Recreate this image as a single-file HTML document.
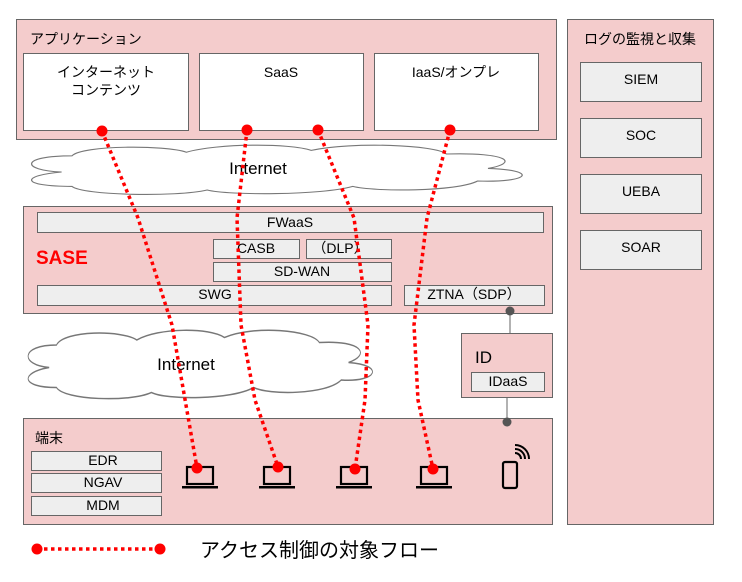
<!DOCTYPE html>
<html><head><meta charset="utf-8"><style>
body{margin:0;background:#fff}
text{font-family:"Liberation Sans","Noto Sans CJK JP",sans-serif;fill:#000}
</style></head><body>
<svg width="742" height="577" viewBox="0 0 742 577" xmlns="http://www.w3.org/2000/svg">
<defs>
<g id="cloud">
<path d="M40,30 C0,28 0,12 50,12 C60,0 140,0 160,8 C190,-2 260,-2 280,6 C320,-4 400,0 410,10 C470,8 480,20 450,26 C500,28 490,42 440,40 C420,52 340,52 320,46 C290,56 200,56 180,50 C150,58 60,56 50,46 C0,46 0,34 40,30 Z" fill="#fff" stroke="#777" stroke-width="1.2"/>
</g>
<g id="laptop">
<rect x="-13" y="0" width="26" height="17" fill="none" stroke="#000" stroke-width="2.2"/>
<rect x="-18" y="19" width="36" height="2.5" fill="#000"/>
</g>
</defs>
<rect x="16.5" y="19.5" width="540" height="120" fill="#f4cccc" stroke="#666"/>
<text x="30" y="44" font-size="14">アプリケーション</text>
<rect x="23.5" y="53.5" width="165" height="77" fill="#fff" stroke="#666"/>
<text x="106" y="77" font-size="14" text-anchor="middle">インターネット</text>
<text x="106" y="95" font-size="14" text-anchor="middle">コンテンツ</text>
<rect x="199.5" y="53.5" width="164" height="77" fill="#fff" stroke="#666"/>
<text x="281" y="77" font-size="14" text-anchor="middle">SaaS</text>
<rect x="374.5" y="53.5" width="164" height="77" fill="#fff" stroke="#666"/>
<text x="456" y="77" font-size="14" text-anchor="middle">IaaS/オンプレ</text>
<rect x="567.5" y="19.5" width="146" height="505" fill="#f4cccc" stroke="#666"/>
<text x="640" y="44" font-size="14" text-anchor="middle">ログの監視と収集</text>
<rect x="580.5" y="62.5" width="121" height="39" fill="#eee" stroke="#666"/>
<text x="641" y="84" font-size="14" text-anchor="middle">SIEM</text>
<rect x="580.5" y="118.5" width="121" height="39" fill="#eee" stroke="#666"/>
<text x="641" y="140" font-size="14" text-anchor="middle">SOC</text>
<rect x="580.5" y="174.5" width="121" height="39" fill="#eee" stroke="#666"/>
<text x="641" y="196" font-size="14" text-anchor="middle">UEBA</text>
<rect x="580.5" y="230.5" width="121" height="39" fill="#eee" stroke="#666"/>
<text x="641" y="252" font-size="14" text-anchor="middle">SOAR</text>
<g transform="translate(20,145) scale(1.04,0.9)"><use href="#cloud"/></g>
<text x="258" y="174" font-size="17" text-anchor="middle">Internet</text>
<rect x="23.5" y="206.5" width="529" height="107" fill="#f4cccc" stroke="#666"/>
<text x="36" y="264" font-size="19" font-weight="bold" style="fill:#f00">SASE</text>
<rect x="37.5" y="212.5" width="506" height="20" fill="#eee" stroke="#666"/>
<text x="290" y="227" font-size="14" text-anchor="middle">FWaaS</text>
<rect x="213.5" y="239.5" width="86" height="19" fill="#eee" stroke="#666"/>
<text x="256" y="253" font-size="14" text-anchor="middle">CASB</text>
<rect x="306.5" y="239.5" width="85" height="19" fill="#eee" stroke="#666"/>
<text x="340" y="253" font-size="14" text-anchor="middle">（DLP）</text>
<rect x="213.5" y="262.5" width="178" height="19" fill="#eee" stroke="#666"/>
<text x="302" y="276" font-size="14" text-anchor="middle">SD-WAN</text>
<rect x="37.5" y="285.5" width="354" height="20" fill="#eee" stroke="#666"/>
<text x="215" y="299" font-size="14" text-anchor="middle">SWG</text>
<rect x="404.5" y="285.5" width="140" height="20" fill="#eee" stroke="#666"/>
<text x="474" y="299" font-size="14" text-anchor="middle">ZTNA（SDP）</text>
<line x1="510" y1="310" x2="510" y2="334" stroke="#666"/>
<circle cx="510" cy="311" r="4.5" fill="#555"/>
<line x1="507" y1="397" x2="507" y2="422" stroke="#666"/>
<g transform="translate(20,330) scale(0.73,1.25)"><use href="#cloud"/></g>
<text x="186" y="370" font-size="17" text-anchor="middle">Internet</text>
<rect x="461.5" y="333.5" width="91" height="64" fill="#f4cccc" stroke="#666"/>
<text x="475" y="363" font-size="17">ID</text>
<rect x="471.5" y="372.5" width="73" height="19" fill="#eee" stroke="#666"/>
<text x="508" y="386" font-size="14" text-anchor="middle">IDaaS</text>
<rect x="23.5" y="418.5" width="529" height="106" fill="#f4cccc" stroke="#666"/>
<circle cx="507" cy="422" r="4.5" fill="#555"/>
<text x="35" y="443" font-size="14">端末</text>
<rect x="31.5" y="451.5" width="130" height="19" fill="#eee" stroke="#666"/>
<text x="103" y="465" font-size="14" text-anchor="middle">EDR</text>
<rect x="31.5" y="473.5" width="130" height="19" fill="#eee" stroke="#666"/>
<text x="103" y="487" font-size="14" text-anchor="middle">NGAV</text>
<rect x="31.5" y="496.5" width="130" height="19" fill="#eee" stroke="#666"/>
<text x="103" y="510" font-size="14" text-anchor="middle">MDM</text>
<use href="#laptop" x="200" y="467"/>
<use href="#laptop" x="277" y="467"/>
<use href="#laptop" x="354" y="467"/>
<use href="#laptop" x="434" y="467"/>
<rect x="503" y="462" width="14" height="26" rx="2" fill="none" stroke="#000" stroke-width="2.2"/>
<path d="M515,453 a6,6 0 0 1 6,6 M515,449 a10,10 0 0 1 10,10 M515,445 a14,14 0 0 1 14,14" fill="none" stroke="#000" stroke-width="2"/>
<g fill="none" stroke="#f00" stroke-width="3.5" stroke-dasharray="3.5 3.5" stroke-linejoin="round">
<polyline points="102,131 138,218 172,325 197,468"/>
<polyline points="247,130 237,218 241,325 255,400 278,467"/>
<polyline points="318,130 354,218 368,325 365,400 355,469"/>
<polyline points="450,130 427,218 414,325 418,400 433,469"/>
<path d="M37,549 L160,549"/>
</g>
<g fill="#f00">
<circle cx="102" cy="131" r="5.5"/><circle cx="197" cy="468" r="5.5"/>
<circle cx="247" cy="130" r="5.5"/><circle cx="278" cy="467" r="5.5"/>
<circle cx="318" cy="130" r="5.5"/><circle cx="355" cy="469" r="5.5"/>
<circle cx="450" cy="130" r="5.5"/><circle cx="433" cy="469" r="5.5"/>
<circle cx="37" cy="549" r="5.5"/><circle cx="160" cy="549" r="5.5"/>
</g>
<text x="200" y="557" font-size="20">アクセス制御の対象フロー</text>
</svg>
</body></html>
